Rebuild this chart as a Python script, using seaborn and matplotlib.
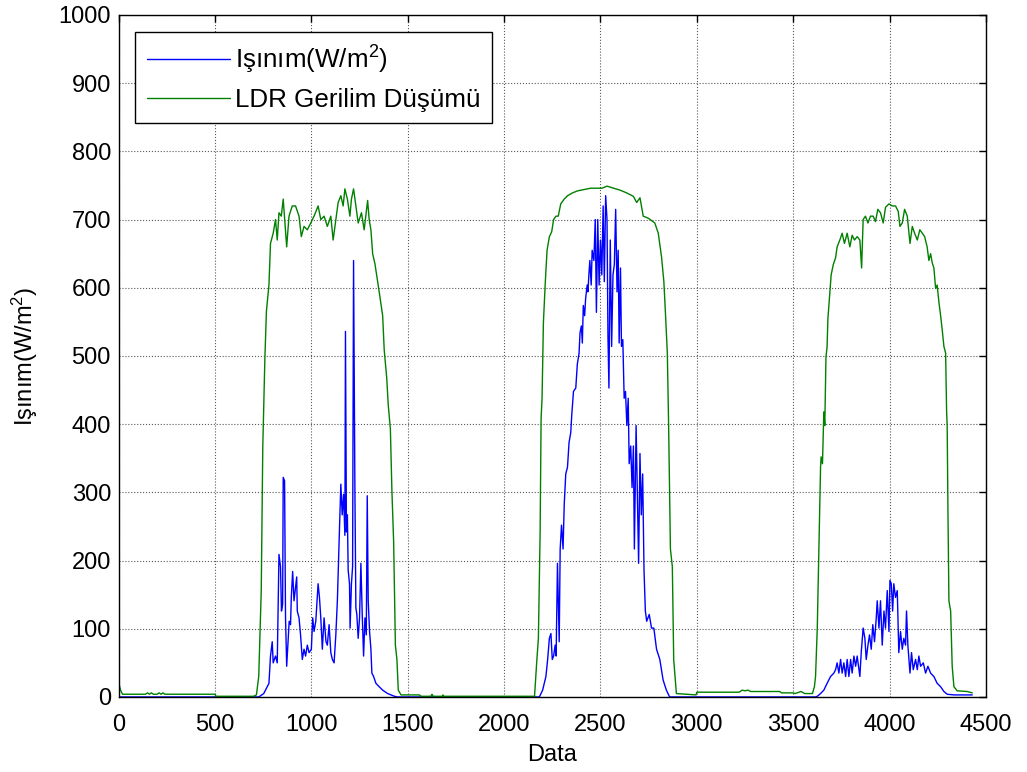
import numpy as np
import pandas as pd
import matplotlib
matplotlib.use("Agg")
import matplotlib.pyplot as plt
import seaborn as sns

# values (sample index vs. value)
irr_x = [0, 720, 727, 753, 780, 788, 797, 802, 814, 823, 832, 840, 845, 851, 854, 861,
         866, 872, 879, 885, 892, 896, 903, 910, 918, 924, 927, 936, 944, 953, 962, 970,
         979, 988, 1000, 1007, 1014, 1023, 1035, 1042, 1049, 1057, 1066, 1076, 1083, 1092,
         1101, 1109, 1118, 1127, 1135, 1141, 1146, 1153, 1160, 1167, 1174, 1177, 1182, 1187,
         1191, 1198, 1201, 1208, 1214, 1219, 1226, 1231, 1236, 1243, 1250, 1257, 1264, 1271,
         1278, 1285, 1290, 1295, 1302, 1309, 1314, 1323, 1335, 1352, 1370, 1396, 1431, 1448,
         2183, 2200, 2217, 2226, 2235, 2243, 2250, 2257, 2265, 2270, 2277, 2286, 2291, 2298,
         2306, 2312, 2320, 2329, 2337, 2346, 2351, 2360, 2372, 2380, 2389, 2394, 2401, 2406,
         2411, 2418, 2423, 2431, 2435, 2440, 2445, 2452, 2457, 2466, 2473, 2479, 2486, 2493,
         2500, 2507, 2514, 2520, 2527, 2534, 2539, 2544, 2551, 2558, 2565, 2572, 2579, 2586,
         2592, 2597, 2604, 2609, 2616, 2623, 2630, 2637, 2644, 2649, 2657, 2664, 2671, 2676,
         2685, 2692, 2698, 2705, 2712, 2719, 2726, 2733, 2740, 2753, 2765, 2777, 2791, 2808,
         2825, 2842, 2859,
         3616, 3625, 3642, 3659, 3676, 3694, 3711, 3720, 3728, 3737, 3746, 3754, 3763, 3772,
         3780, 3789, 3798, 3806, 3815, 3824, 3832, 3846, 3853, 3863, 3872, 3879, 3888, 3896,
         3905, 3913, 3922, 3931, 3936, 3945, 3953, 3962, 3971, 3979, 3988, 3997, 4002, 4009,
         4016, 4022, 4031, 4040, 4048, 4057, 4066, 4074, 4083, 4088, 4095, 4106, 4114, 4123,
         4135, 4144, 4152, 4161, 4175, 4187, 4199, 4213, 4230, 4247, 4265, 4282, 4299, 4334,
         4429]
irr_y = [0, 0, 0, 5, 20, 60, 81, 50, 60, 50, 209, 191, 126, 136, 322, 317,
         116, 45, 81, 111, 106, 146, 184, 141, 161, 176, 126, 116, 91, 55, 70, 60,
         76, 65, 70, 116, 96, 111, 166, 146, 116, 70, 116, 81, 76, 106,
         65, 55, 50, 91, 141, 201, 247, 312, 267, 297, 237, 536, 242, 267,
         186, 166, 101, 166, 191, 640, 302, 131, 121, 86, 116, 196, 121, 60,
         116, 91, 295, 141, 96, 70, 35, 30, 20, 15, 10, 5, 1, 0,
         0, 10, 30, 55, 86, 93, 55, 60, 76, 60, 196, 81, 217, 252,
         217, 282, 327, 337, 373, 388, 413, 448, 453, 488, 504, 534, 544, 519,
         574, 559, 584, 604, 594, 619, 640, 604, 655, 640, 700, 564, 700, 604,
         670, 619, 720, 609, 735, 700, 529, 453, 670, 514, 619, 634, 715, 594,
         655, 519, 629, 514, 524, 438, 448, 398, 438, 342, 368, 307, 368, 217,
         398, 287, 196, 357, 267, 327, 186, 126, 111, 121, 101, 101, 70, 55,
         25, 10, 0,
         0, 1, 5, 10, 20, 30, 35, 40, 50, 35, 55, 35, 50, 30,
         55, 30, 55, 35, 60, 45, 60, 30, 65, 101, 86, 55, 76, 91,
         70, 106, 81, 116, 141, 101, 141, 76, 126, 101, 156, 96, 171, 166,
         126, 166, 146, 156, 65, 96, 70, 86, 76, 126, 76, 35, 65, 40,
         55, 40, 60, 45, 50, 35, 45, 35, 30, 20, 15, 8, 4, 3,
         3]

ldr_x = [0, 3, 10, 20, 140, 150, 160, 170, 180, 200, 210, 220, 230, 240, 250, 500,
         505, 700, 715, 727, 740, 748, 759, 767, 780, 788, 802, 814, 823, 832, 844, 854,
         863, 872, 884, 901, 918, 936, 948, 962, 979, 997, 1014, 1035, 1049, 1066, 1083,
         1101, 1113, 1127, 1139, 1153, 1165, 1174, 1187, 1200, 1208, 1219, 1231, 1243,
         1260, 1274, 1292, 1300, 1309, 1318, 1330, 1344, 1352, 1370, 1378, 1391, 1399,
         1410, 1418, 1427, 1436, 1444, 1451, 1465, 1560, 1570, 1620, 1626, 1632, 1680,
         1683, 1686, 2150, 2158, 2169, 2178, 2187, 2192, 2197, 2204, 2214, 2223, 2235,
         2247, 2257, 2269, 2281, 2294, 2312, 2329, 2354, 2380, 2414, 2449, 2483, 2508,
         2534, 2568, 2603, 2637, 2671, 2688, 2705, 2722, 2748, 2782, 2800, 2817, 2829,
         2837, 2847, 2854, 2863, 2873, 2880, 2894, 2945, 2996,
         3000, 3220, 3235, 3250, 3265, 3280, 3430, 3440, 3500, 3510, 3540, 3560, 3600,
         3610, 3616, 3625, 3633, 3642, 3645, 3652, 3659, 3664, 3670, 3676, 3680, 3689,
         3697, 3708, 3720, 3728, 3742, 3754, 3766, 3780, 3794, 3806, 3818, 3832, 3846,
         3855, 3863, 3875, 3888, 3901, 3915, 3927, 3939, 3953, 3967, 3979, 3997, 4014,
         4031, 4045, 4054, 4066, 4078, 4092, 4106, 4118, 4130, 4144, 4157, 4170, 4182,
         4195, 4204, 4213, 4221, 4230, 4239, 4247, 4256, 4265, 4273, 4282, 4291, 4296,
         4299, 4303, 4308, 4317, 4325, 4334, 4351, 4403, 4429]
ldr_y = [85, 18, 10, 4, 4, 6, 4, 6, 4, 4, 6, 4, 6, 4, 4, 4,
         1, 1, 3, 30, 156, 367, 498, 566, 604, 665, 680, 700, 670, 710, 705, 730,
         695, 660, 705, 720, 720, 705, 675, 690, 685, 695, 705, 720, 700, 705, 690,
         705, 670, 700, 725, 735, 720, 745, 730, 705, 730, 745, 720, 695,
         710, 685, 728, 700, 685, 650, 635, 609, 594, 559, 509, 468, 428,
         393, 302, 227, 76, 55, 10, 3, 3, 1, 1, 4, 1, 1,
         3, 1, 1, 1, 50, 86, 242, 408, 438, 549, 609, 655, 675,
         682, 700, 705, 705, 723, 730, 735, 739, 742, 744, 746, 746, 746,
         749, 746, 743, 739, 734, 725, 732, 705, 702, 695, 680, 645, 609,
         564, 504, 393, 217, 191, 55, 5, 4, 3,
         7, 7, 10, 9, 10, 8, 8, 6, 6, 5, 8, 5, 5,
         15, 30, 101, 211, 337, 352, 342, 418, 398, 498, 514, 554, 589,
         619, 634, 644, 660, 670, 680, 665, 680, 660, 677, 670, 675, 670,
         629, 700, 705, 695, 705, 705, 697, 715, 710, 695, 718, 723, 720,
         720, 712, 690, 695, 715, 705, 665, 690, 680, 670, 685, 680, 675,
         660, 640, 650, 637, 629, 599, 604, 579, 559, 539, 514, 504, 418,
         398, 272, 141, 126, 45, 15, 9, 8, 6]

x_ticks = list(range(0, 4501, 500))
y_ticks = list(range(0, 1001, 100))
irr_label = "Işınım(W/m$^{2}$)"
ldr_label = "LDR Gerilim Düşümü"

sns.set_style("white")
plt.rcParams["font.family"] = ["Liberation Sans", "DejaVu Sans"]
plt.rcParams["mathtext.fontset"] = "custom"
plt.rcParams["mathtext.rm"] = "Liberation Sans"
plt.rcParams["mathtext.it"] = "Liberation Sans"
plt.rcParams["mathtext.default"] = "regular"
plt.rcParams["text.color"] = "black"
plt.rcParams["axes.labelcolor"] = "black"

irr = pd.DataFrame({"x": irr_x, "y": irr_y})
ldr = pd.DataFrame({"x": ldr_x, "y": ldr_y})

fig = plt.figure(figsize=(10.27, 7.72), dpi=100)
ax = fig.add_axes([0.1155, 0.0972, 0.8445, 0.8834])

sns.lineplot(data=irr, x="x", y="y", ax=ax, color="#0000ff", lw=1.0,
             estimator=None, sort=False, label=irr_label)
sns.lineplot(data=ldr, x="x", y="y", ax=ax, color="#008000", lw=1.0,
             estimator=None, sort=False, label=ldr_label)

ax.set_xlim(0, 4500)
ax.set_ylim(0, 1000)
ax.set_xticks(x_ticks)
ax.set_yticks(y_ticks)
ax.tick_params(direction="in", length=5, width=1, labelsize=17,
               top=True, right=True, colors="black")
ax.tick_params(axis="x", pad=12)
ax.tick_params(axis="y", pad=5.5)
ax.grid(True, linestyle=":", color="0.35", lw=0.8)
for s in ax.spines.values():
    s.set_color("black")
    s.set_linewidth(1.0)
    s.set_visible(True)

ax.set_xlabel("Data", fontsize=17, labelpad=6)
ax.set_ylabel(irr_label, fontsize=17, labelpad=13)

leg = ax.legend(loc="upper left", bbox_to_anchor=(0.019, 0.975), borderaxespad=0,
                fontsize=18.7, fancybox=False, framealpha=1, edgecolor="black",
                handlelength=3.2, handletextpad=0.2, borderpad=0.45, labelspacing=0.45)
leg.get_frame().set_linewidth(1.0)

fig.savefig("out.png", dpi=100, facecolor="white")
